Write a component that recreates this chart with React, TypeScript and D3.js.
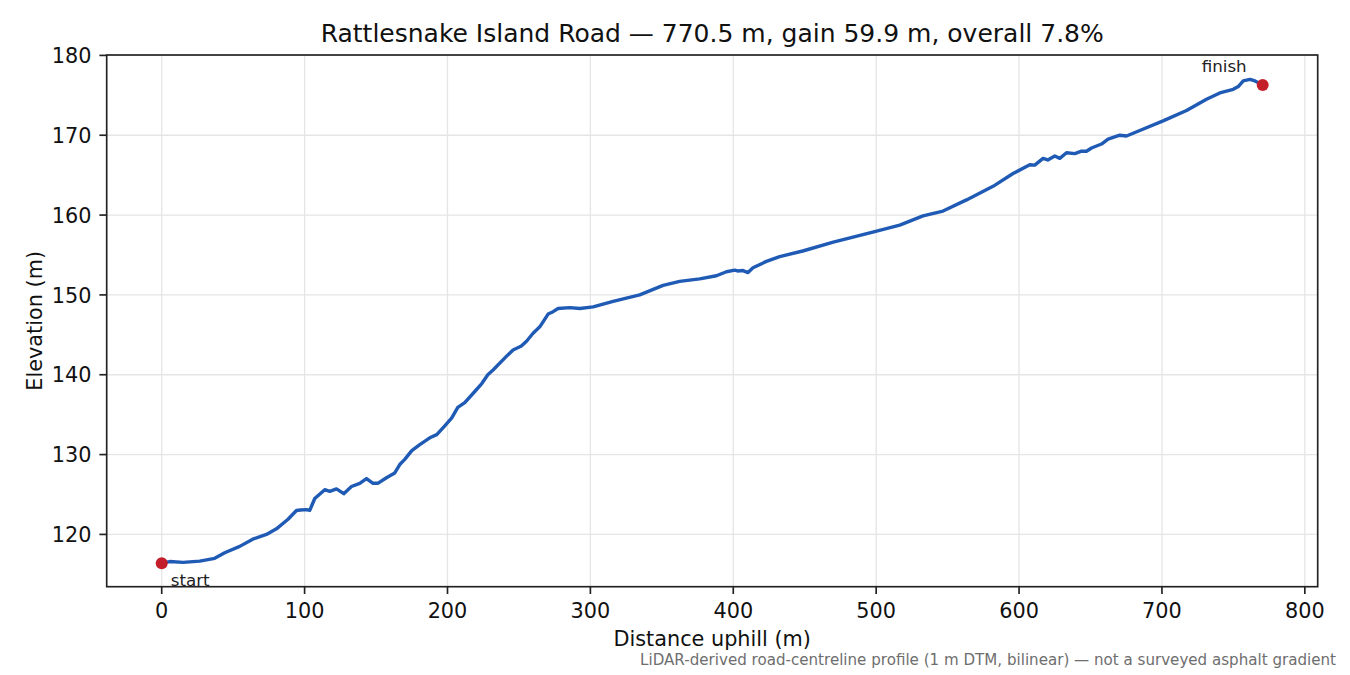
import React from 'react';
import * as d3 from 'd3';

// distance along road (m) and elevation (m)
const distance = [
  0, 5.6, 15, 26.6, 37.1, 44.1, 54.6, 63.7, 73.3, 80.3, 88.4, 94.3, 97, 101.3, 103.6,
  107.1, 114.1, 117.6, 122.3, 127.4, 132.8, 138.6, 143.3, 147.9, 151.2, 157.3, 163.1,
  166.6, 170.1, 175, 180.6, 187.6, 192.5, 198.1, 203, 207.2, 212.1, 219.1, 224, 228.2,
  231.9, 241.2, 245.9, 251.7, 255.3, 259.9, 264.6, 270.4, 273.9, 277.4, 285.6, 292.6,
  301.9, 315.9, 334.5, 350.9, 362.5, 376.5, 388.2, 395.2, 401, 403, 406.8, 410.3, 413.8,
  423.2, 432.5, 448.6, 470, 498.3, 516.5, 532.8, 546.8, 563.2, 581.8, 595.8, 607.5, 611,
  616.8, 620.1, 625, 628.5, 633.2, 639, 643.7, 647.2, 650.7, 657.7, 662.3, 670.5, 675.2,
  684.5, 700.8, 717.2, 731.2, 740.5, 749.9, 753.4, 756.9, 761.6, 765.1, 770.5,
];
const elevation = [
  116.4, 116.6, 116.5, 116.65, 117.0, 117.7, 118.5, 119.4, 120.0, 120.7, 121.9, 123.0, 123.05, 123.1, 123.0,
  124.5, 125.6, 125.4, 125.7, 125.1, 126.0, 126.4, 127.0, 126.4, 126.4, 127.1, 127.7,
  128.75, 129.4, 130.5, 131.25, 132.1, 132.5, 133.6, 134.6, 135.9, 136.5, 137.9, 138.9, 140.0,
  140.6, 142.3, 143.1, 143.6, 144.2, 145.2, 146.0, 147.6, 147.9, 148.3, 148.4, 148.3,
  148.5, 149.2, 150.0, 151.2, 151.7, 152.0, 152.4, 152.9, 153.1, 153.0, 153.05, 152.8, 153.4,
  154.2, 154.8, 155.5, 156.6, 157.9, 158.75, 159.9, 160.5, 161.9, 163.6, 165.2, 166.3, 166.25,
  167.1, 166.9, 167.4, 167.1, 167.8, 167.7, 168.0, 168.0, 168.4, 168.9, 169.5, 170.0, 169.9,
  170.6, 171.8, 173.1, 174.5, 175.3, 175.75, 176.1, 176.8, 177.0, 176.8, 176.3,
];

const xTicks = [0, 100, 200, 300, 400, 500, 600, 700, 800];
const yTicks = [120, 130, 140, 150, 160, 170, 180];

const endpointLabels = ['start', 'finish'];

const W = 1350;
const H = 675;
const plot = { left: 106.7, right: 1317.7, top: 55, bottom: 586.7 };
const FONT = "'DejaVu Sans', sans-serif";
const LINE = '#1f5bb4';
const DOT = '#c41e2a';

export default function App() {
  const x = d3.scaleLinear().domain([-38.5, 809]).range([plot.left, plot.right]);
  const y = d3.scaleLinear().domain([113.45, 180.05]).range([plot.bottom, plot.top]);

  const points = distance.map((d, i) => [d, elevation[i]] as [number, number]);
  const path = d3.line<[number, number]>()
    .x(d => x(d[0]))
    .y(d => y(d[1]))(points) || '';

  const first = points[0];
  const last = points[points.length - 1];

  return (
    <div style={{ position: 'absolute', left: 0, top: 0 }}>
      <svg width={W} height={H} style={{ display: 'block', fontFamily: FONT }}>
        <rect width={W} height={H} fill="#fff" />
        <defs>
          <clipPath id="plotclip">
            <rect x={plot.left} y={plot.top} width={plot.right - plot.left} height={plot.bottom - plot.top} />
          </clipPath>
        </defs>

        {/* grid */}
        {xTicks.map(t => (
          <line key={'gx' + t} x1={x(t)} x2={x(t)} y1={plot.top} y2={plot.bottom} stroke="#e5e5e5" strokeWidth={1.3} />
        ))}
        {yTicks.map(t => (
          <line key={'gy' + t} x1={plot.left} x2={plot.right} y1={y(t)} y2={y(t)} stroke="#e5e5e5" strokeWidth={1.3} />
        ))}

        {/* profile */}
        <path d={path} fill="none" stroke={LINE} strokeWidth={3.4} strokeLinejoin="round" strokeLinecap="round" clipPath="url(#plotclip)" />
        <circle cx={x(first[0])} cy={y(first[1])} r={6} fill={DOT} />
        <circle cx={x(last[0])} cy={y(last[1])} r={6} fill={DOT} />
        <text x={x(first[0]) + 9} y={y(first[1]) + 23} fontSize={16.7} fill="#222">{endpointLabels[0]}</text>
        <text x={x(last[0]) - 16} y={y(last[1]) - 13} fontSize={16.7} fill="#222" textAnchor="end">{endpointLabels[1]}</text>

        {/* spines */}
        <rect x={plot.left} y={plot.top} width={plot.right - plot.left} height={plot.bottom - plot.top} fill="none" stroke="#222" strokeWidth={1.67} />

        {/* x axis */}
        {xTicks.map(t => (
          <g key={'tx' + t}>
            <line x1={x(t)} x2={x(t)} y1={plot.bottom} y2={plot.bottom + 7.3} stroke="#222" strokeWidth={1.67} />
            <text x={x(t)} y={618} fontSize={20.8} textAnchor="middle" fill="#111">{t}</text>
          </g>
        ))}
        {/* y axis */}
        {yTicks.map(t => (
          <g key={'ty' + t}>
            <line x1={plot.left - 7.3} x2={plot.left} y1={y(t)} y2={y(t)} stroke="#222" strokeWidth={1.67} />
            <text x={91.5} y={y(t) + 7.6} fontSize={20.8} textAnchor="end" fill="#111">{t}</text>
          </g>
        ))}

        <text x={(plot.left + plot.right) / 2} y={646} fontSize={20.8} textAnchor="middle" fill="#111">Distance uphill (m)</text>
        <text transform={`translate(41.5,${(plot.top + plot.bottom) / 2}) rotate(-90)`} fontSize={20.8} textAnchor="middle" fill="#111">Elevation (m)</text>

        <text x={(plot.left + plot.right) / 2} y={42} fontSize={25} textAnchor="middle" fill="#111">
          Rattlesnake Island Road — 770.5 m, gain 59.9 m, overall 7.8%
        </text>
        <text x={1336} y={665} fontSize={15.1} textAnchor="end" fill="#6e6e6e">
          LiDAR-derived road-centreline profile (1 m DTM, bilinear) — not a surveyed asphalt gradient
        </text>
      </svg>
    </div>
  );
}
